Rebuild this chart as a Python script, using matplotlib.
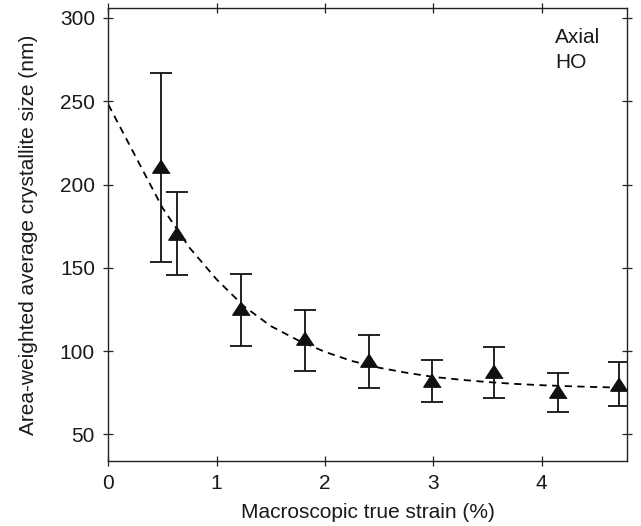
import numpy as np
import matplotlib
matplotlib.use('Agg')
import matplotlib.pyplot as plt

plt.rcParams['font.family'] = ['Liberation Sans', 'DejaVu Sans']

# measured points: strain (%), crystallite size (nm), error bar ends
strain = [0.487, 0.637, 1.228, 1.816, 2.41, 2.99, 3.564, 4.146, 4.718]
size = [211, 170.6, 125.8, 107.8, 94.8, 82.8, 88.2, 75.8, 80.4]
err_top = [267, 195.6, 146, 124.8, 109.6, 94.8, 102.4, 86.6, 93.4]
err_bot = [153.6, 145.4, 103, 87.8, 77.6, 69.4, 72, 63.6, 66.9]

# dashed fit curve
fit_x = [0, 0.25, 0.5, 0.75, 1.0, 1.25, 1.5, 1.75, 2.0, 2.25, 2.5, 2.75,
         3.0, 3.25, 3.5, 3.75, 4.0, 4.25, 4.5, 4.79]
fit_y = [248, 217, 186, 162, 143, 127, 115, 106.5, 99.5, 94, 90, 87,
         84.5, 82.8, 81.4, 80.3, 79.5, 78.9, 78.4, 78]

size_arr = np.array(size)
yerr = [size_arr - np.array(err_bot), np.array(err_top) - size_arr]

fig = plt.figure(figsize=(6.41, 5.26), dpi=100)
axe = fig.add_axes([0.169, 0.1236, 0.8096, 0.8612])

axe.plot(fit_x, fit_y, 'k--', lw=1.3, dashes=(4, 3))

tri = [(0, 0.77), (-1, -0.77), (1, -0.77)]
axe.errorbar(strain, size, yerr=yerr, fmt='none', ecolor='#111111',
             elinewidth=1.3, capsize=8, capthick=1.3)
axe.plot(strain, size, ls='none', marker=tri, ms=12.5, color='#111111')

axe.set_xlim(0, 4.79)
axe.set_ylim(34, 306)
axe.set_xticks([0, 1, 2, 3, 4])
axe.set_yticks([50, 100, 150, 200, 250, 300])
axe.tick_params(direction='inout', length=6.7, width=0.9, labelsize=15,
                top=True, right=True, color='#222222', labelcolor='#1a1a1a')
axe.tick_params(axis='x', pad=6)
axe.tick_params(axis='y', pad=6.3)
for sp in axe.spines.values():
    sp.set_linewidth(1.0)
    sp.set_color('#222222')

axe.set_xlabel('Macroscopic true strain (%)', fontsize=15, labelpad=7,
               color='#1a1a1a')
axe.set_ylabel('Area-weighted average crystallite size (nm)', fontsize=15,
               labelpad=16, color='#1a1a1a')
axe.text(0.8605, 0.955, 'Axial\nHO', transform=axe.transAxes, ha='left',
         va='top', fontsize=15, linespacing=1.35, color='#1a1a1a')

fig.savefig('out.png', dpi=100)
plt.close()
